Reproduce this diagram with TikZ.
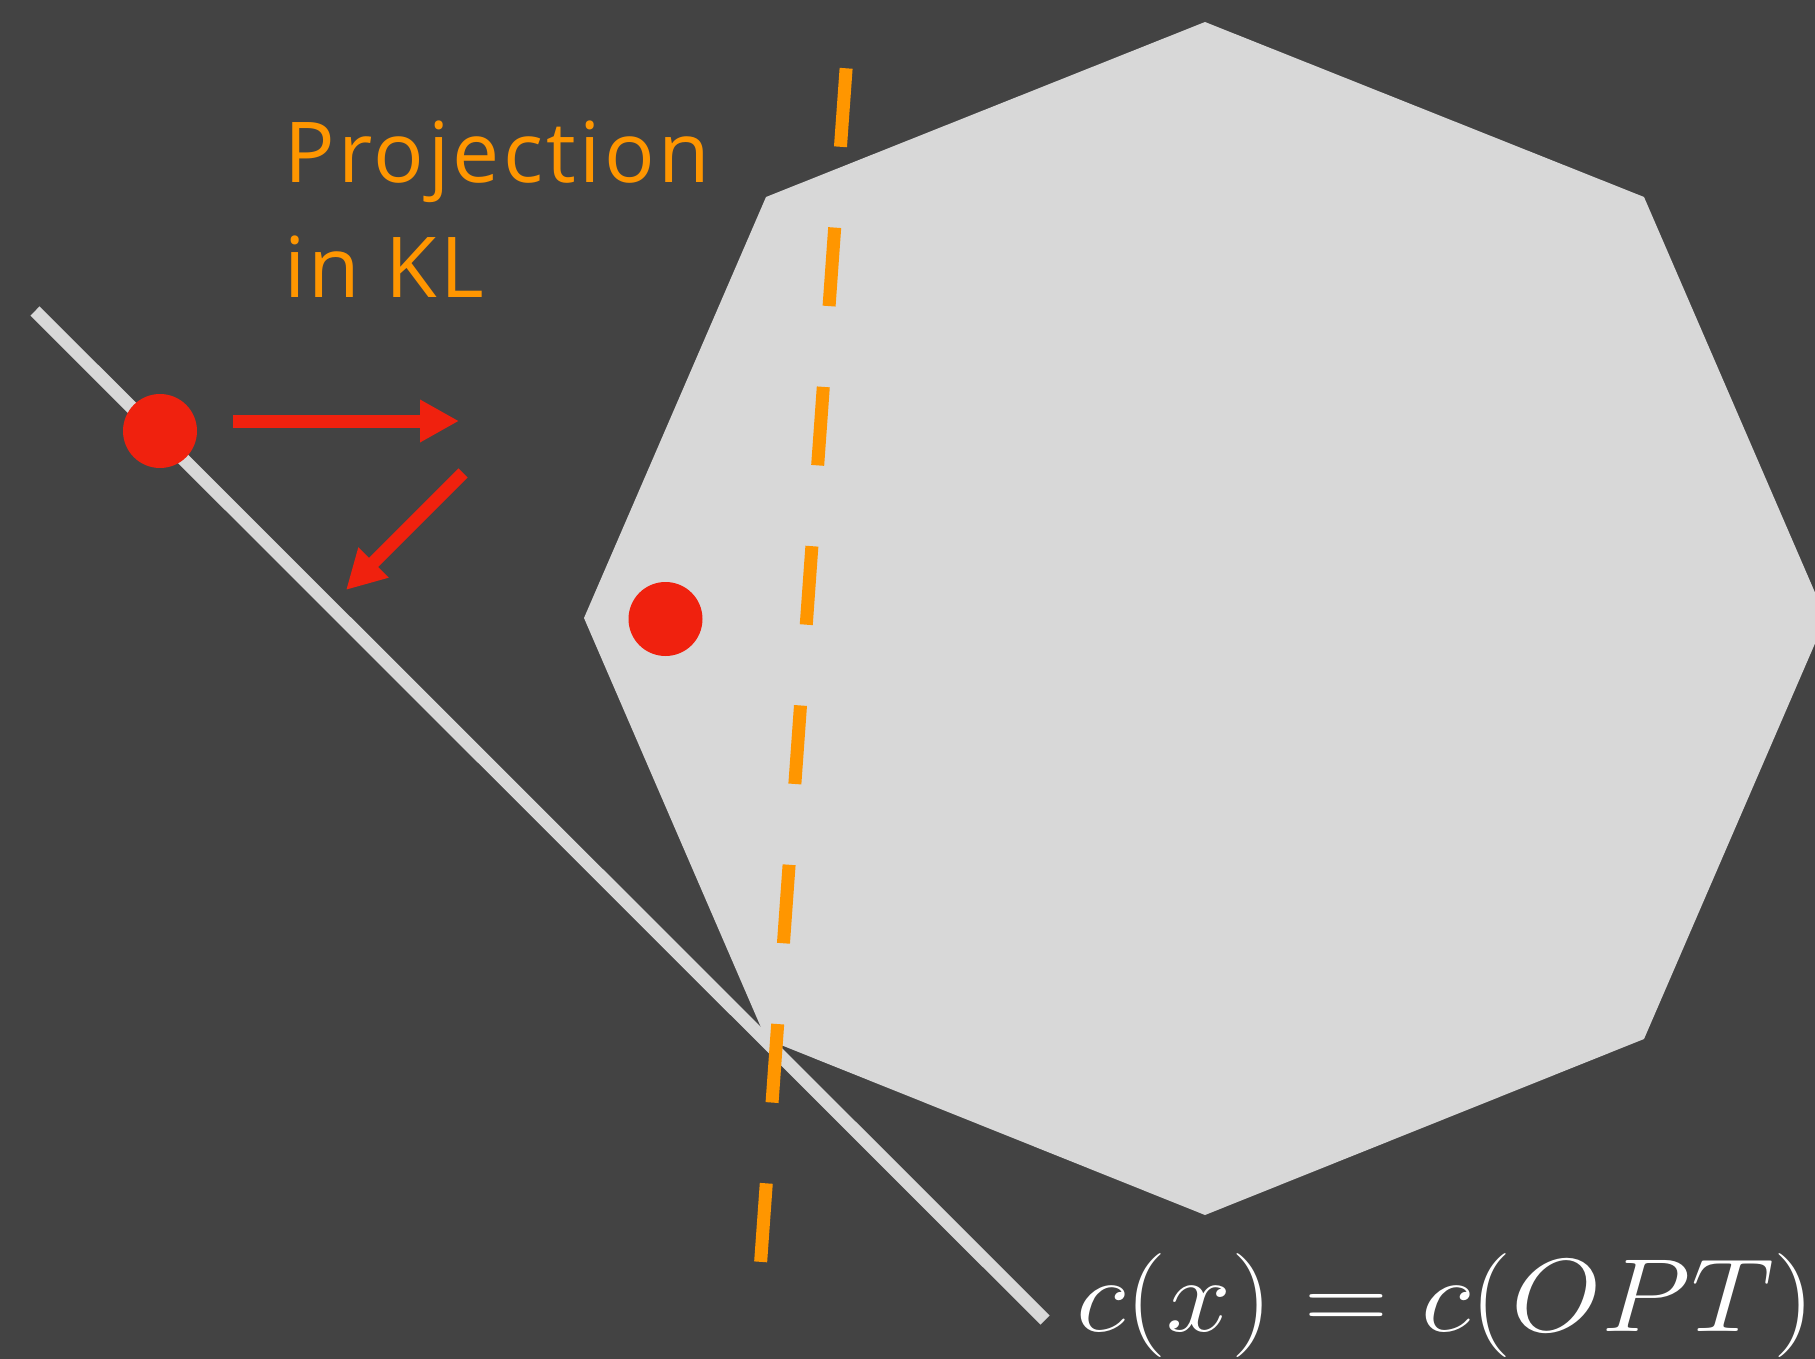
\RequirePackage{fix-cm}
\documentclass[tikz,border=0pt]{standalone}
\usepackage{fontspec}
\usepackage{graphicx}
\newfontfamily\labelfont[LetterSpace=4]{Open Sans}
\usetikzlibrary{arrows.meta}
\definecolor{bgcol}{RGB}{67,67,67}
\definecolor{polycol}{RGB}{216,216,216}
\definecolor{redcol}{RGB}{240,33,14}
\definecolor{orangecol}{RGB}{255,150,0}
\tikzset{
  dot/.style={circle,fill=redcol,inner sep=0pt,minimum size=74pt},
  redarrow/.style={draw=redcol,line width=13pt,-{Triangle[length=39pt,width=40pt]}},
  cutline/.style={draw=polycol,line width=13pt},
  kldash/.style={draw=orangecol,line width=13pt,dash pattern=on 78.7pt off 81pt},
  labeltext/.style={text=orangecol,font=\labelfont\fontsize{84}{115}\selectfont,align=left,inner sep=0pt},
  mathtext/.style={text=white,font=\fontsize{104}{120}\selectfont,inner sep=0pt}
}
\begin{document}
\begin{tikzpicture}[x=1pt,y=-1pt]
\useasboundingbox (0,0) rectangle (1815,1359);
\clip (0,0) rectangle (1815,1359);
\fill[bgcol] (0,0) rectangle (1815,1359);
\fill[polycol] (1205,22) -- (1644,197) -- (1826,618) -- (1644,1039) -- (1205,1215) -- (766,1039) -- (584,618) -- (766,197) -- cycle;
\coordinate (l1) at (35,311);
\coordinate (l2) at (1045,1320);
\draw[cutline] (l1) -- (l2);
\coordinate (d1) at (846.1,68.3);
\coordinate (d2) at (760.5,1264);
\draw[kldash] (d1) -- (d2);
\node[dot] (p) at (160,431) {};
\node[dot] (q) at (665.5,619) {};
\coordinate (a1) at (233,421);
\coordinate (a2) at (459,421);
\draw[redarrow] (a1) -- (a2);
\coordinate (b1) at (463,473);
\coordinate (b2) at (346,590);
\draw[redarrow] (b1) -- (b2);
\node[labeltext,anchor=base west] (lab) at (284,297) {Projection\\in KL};
\node[mathtext,anchor=base west] (eq) at (1076,1331) {\scalebox{1.12}[1]{$c(x)=c(OPT)$}};
\end{tikzpicture}
\end{document}
